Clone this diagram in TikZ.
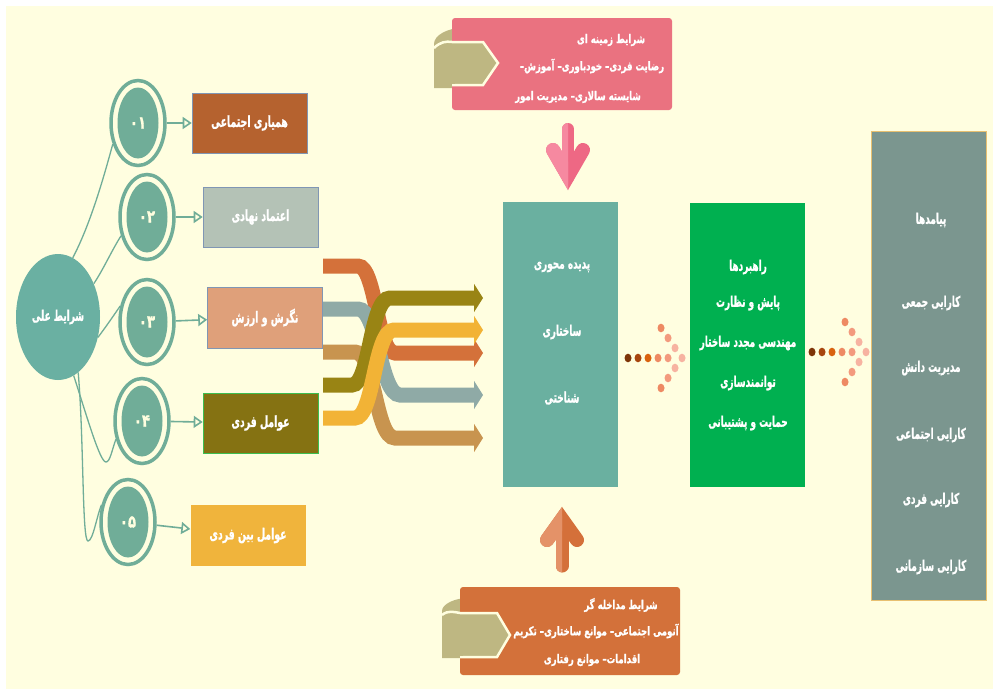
\documentclass[tikz,border=0pt]{standalone}
\usepackage{graphicx}
\usepackage{fontspec}
\usetikzlibrary{shapes.geometric,arrows.meta}
\TeXXeTstate=1
\newfontfamily\arabicfont[Script=Arabic, BoldFeatures={FakeBold=1.2}]{DejaVu Sans}
\newcommand{\fatx}[1]{\scalebox{0.85}[1.4]{\arabicfont\bfseries\beginR #1\endR}}
\newcommand{\fatp}[1]{\scalebox{0.95}[1.35]{\arabicfont\bfseries\beginR #1\endR}}
\newcommand{\fanum}[1]{\scalebox{0.95}[1.25]{\arabicfont\bfseries #1}}
\definecolor{bgc}{RGB}{255,254,224}
\definecolor{ringc}{RGB}{112,173,152}
\definecolor{bigc}{RGB}{106,176,162}
\definecolor{bxa}{RGB}{181,98,47}
\definecolor{bxb}{RGB}{180,194,182}
\definecolor{bxc}{RGB}{223,160,122}
\definecolor{bxd}{RGB}{133,114,18}
\definecolor{bxe}{RGB}{240,180,60}
\definecolor{bordblue}{RGB}{128,150,180}
\definecolor{bordgreen}{RGB}{60,190,80}
\definecolor{pinkbox}{RGB}{234,114,128}
\definecolor{orangebox}{RGB}{211,113,58}
\definecolor{khaki}{RGB}{190,183,130}
\definecolor{cboxc}{RGB}{106,176,160}
\definecolor{gboxc}{RGB}{0,176,80}
\definecolor{rboxc}{RGB}{123,150,143}
\definecolor{rboxb}{RGB}{232,192,112}
\definecolor{bandA}{RGB}{212,113,58}
\definecolor{bandB}{RGB}{143,170,166}
\definecolor{bandC}{RGB}{200,148,79}
\definecolor{bandD}{RGB}{153,132,20}
\definecolor{bandE}{RGB}{242,179,54}
\definecolor{pinkL}{RGB}{246,137,160}
\definecolor{pinkD}{RGB}{238,104,132}
\definecolor{orL}{RGB}{228,146,104}
\definecolor{orD}{RGB}{212,112,58}
\definecolor{dA}{RGB}{126,53,8}
\definecolor{dB}{RGB}{168,70,14}
\definecolor{dC}{RGB}{217,98,15}
\definecolor{dD}{RGB}{238,138,99}
\definecolor{dE}{RGB}{243,154,125}
\definecolor{dF}{RGB}{247,179,161}
\begin{document}
\begin{tikzpicture}[x=1pt,y=-1pt,
  bigell/.style={ellipse, fill=bigc, minimum width=84pt, minimum height=126pt, inner sep=0pt, text=white, font=\fontsize{10.5}{13}\selectfont},
  ring/.style={ellipse, draw=ringc, line width=3.5pt, fill=bgc, minimum width=54pt, minimum height=85pt, inner sep=0pt},
  ringin/.style={ellipse, fill=ringc, minimum width=41pt, minimum height=71pt, inner sep=0pt, text=bgc, font=\fontsize{14}{16}\selectfont},
  tbox/.style={rectangle, minimum width=115pt, minimum height=60pt, inner sep=0pt, text=white, font=\fontsize{11}{13}\selectfont},
  carrow/.style={draw=ringc, line width=1.6pt, -{Triangle[length=9pt, width=12pt, fill=bgc]}},
  cline/.style={draw=ringc, line width=1.3pt},
  band/.style={line width=15pt, -{Triangle[length=9pt, width=28pt]}},
  wt/.style={text=white, inner sep=0pt},
  pt/.style={wt, font=\fontsize{9}{11}\selectfont},
  mt/.style={wt, font=\fontsize{10.5}{12}\selectfont},
  tallbox/.style={rectangle, minimum width=115pt, inner sep=0pt}
]
\useasboundingbox (0,0) rectangle (993,689);
\fill[white] (0,0) rectangle (993,689);
\fill[bgc] (6,6) rectangle (993,689);

% big ellipse and rings
\node[bigell] (big) at (58,317) {\fatx{شرایط علی}};
\node[ring] (c1) at (138,123) {};
\node[ringin] (n1) at (c1) {\fanum{۰۱}};
\node[ring] (c2) at (147,217) {};
\node[ringin] (n2) at (c2) {\fanum{۰۲}};
\node[ring] (c3) at (147,322) {};
\node[ringin] (n3) at (c3) {\fanum{۰۳}};
\node[ring] (c4) at (142,421) {};
\node[ringin] (n4) at (c4) {\fanum{۰۴}};
\node[ring] (c5) at (128,522) {};
\node[ringin] (n5) at (c5) {\fanum{۰۵}};

\draw[cline] (big.76) .. controls (90,225) and (103,180) .. (c1.220);
\draw[cline] (big.43) .. controls (103,270) and (112,250) .. (c2.216);
\draw[cline] (big.-27) .. controls (105,328) and (112,318) .. (c3.149);
\draw[cline] (big.-75) .. controls (88,420) and (100,462) .. (106,462) .. controls (110,462) and (112,450) .. (c4.215);
\draw[cline] (big.-70) .. controls (84,440) and (82,541) .. (88,541) .. controls (93,541) and (97,515) .. (c5.147);

% boxes
\node[tbox, fill=bxa, draw=bordblue, line width=0.6pt] (b1) at (249.5,123) {\fatx{همیاری اجتماعی}};
\node[tbox, fill=bxb, draw=bordblue, line width=0.6pt] (b2) at (260.5,217) {\fatx{اعتماد نهادی}};
\node[tbox, fill=bxc, draw=bordblue, line width=0.6pt, minimum height=61pt] (b3) at (265,317.5) {\fatx{نگرش و ارزش}};
\node[tbox, fill=bxd, draw=bordgreen, line width=0.6pt] (b4) at (260.5,423) {\fatx{عوامل فردی}};
\node[tbox, fill=bxe, minimum height=61pt] (b5) at (248,535.5) {\fatx{عوامل بین فردی}};

\draw[carrow] (c1) -- (b1);
\draw[carrow] (c2) -- (b2);
\draw[carrow] (c3) -- (b3);
\draw[carrow] (c4) -- (b4);
\draw[carrow] (c5) -- (b5);

% crossing bands
\coordinate (sA) at (323,266); \coordinate (eA) at (483,353);
\coordinate (sB) at (323,309); \coordinate (eB) at (483,395);
\coordinate (sC) at (323,352); \coordinate (eC) at (483,438);
\coordinate (sD) at (323,385); \coordinate (eD) at (483,298);
\coordinate (sE) at (323,418); \coordinate (eE) at (483,330);
\draw[band, color=bandA] (sA) -- (358,266) .. controls (376,266) and (377,353) .. (395,353) -- (eA);
\draw[band, color=bandB] (sB) -- (358,309) .. controls (378,309) and (380,395) .. (400,395) -- (eB);
\draw[band, color=bandC] (sC) -- (355,352) .. controls (375,352) and (375,438) .. (395,438) -- (eC);
\draw[band, color=bandD] (sD) -- (352,385) .. controls (370,385) and (370,298) .. (390,298) -- (eD);
\draw[band, color=bandE] (sE) -- (355,418) .. controls (374,418) and (374,330) .. (394,330) -- (eE);

% top pink box with scroll
\fill[khaki, rounded corners=3pt] (434,88) -- (434,47) [sharp corners] .. controls (434,35) and (448,28) .. (462,28) -- (462,88) -- cycle;
\node[rectangle, fill=pinkbox, rounded corners=3pt, minimum width=220pt, minimum height=92pt, inner sep=0pt] (pb) at (562,64) {};
\draw[bgc, line width=2.5pt] (434,48) .. controls (440,42) and (446,41) .. (452,42);
\draw[bgc, line width=2.5pt, fill=khaki, line join=miter] (452,42) -- (483,42) -- (498,63) -- (483,85) -- (452,85);
\fill[khaki] (452,43.5) rectangle (455,83.5);
\node[pt] (pt1) at (611,40) {\fatp{شرایط زمینه ای}};
\node[pt] (pt2) at (592,66) {\fatp{رضایت فردی– خودباوری– آموزش–}};
\node[pt] (pt3) at (578,97) {\fatp{شایسته سالاری– مدیریت امور}};

% bottom orange box with scroll
\fill[khaki, rounded corners=3pt] (442,658) -- (442,614) [sharp corners] .. controls (442,604) and (455,598) .. (468,598) -- (468,658) -- cycle;
\node[rectangle, fill=orangebox, rounded corners=3pt, minimum width=220pt, minimum height=88pt, inner sep=0pt] (ob) at (570,631) {};
\draw[bgc, line width=2.5pt] (442,615) .. controls (448,610) and (454,612) .. (460,613);
\draw[bgc, line width=2.5pt, fill=khaki, line join=miter] (460,613) -- (497,613) -- (510,635) -- (497,657) -- (460,657);
\fill[khaki] (460,614.5) rectangle (463,655.5);
\node[pt] (ot1) at (621,605) {\fatp{شرایط مداخله گر}};
\node[pt] (ot2) at (596,631) {\fatp{آنومی اجتماعی– موانع ساختاری– تکریم}};
\node[pt] (ot3) at (592,660) {\fatp{اقدامات– موانع رفتاری}};

% pink down arrow
\begin{scope}[line cap=round, line join=miter]
\draw[pinkD, line width=12pt] (568,129) -- (568,178);
\draw[pinkD, line width=14pt] (553,150) -- (568,176) -- (583,150);
\begin{scope}
\clip (530,100) rectangle (568,200);
\draw[pinkL, line width=12pt] (568,129) -- (568,178);
\draw[pinkL, line width=14pt] (553,150) -- (568,176) -- (583,150);
\end{scope}
\end{scope}

% orange up arrow
\begin{scope}[line cap=round, line join=miter]
\draw[orD, line width=13pt] (562,566) -- (562,522);
\draw[orD, line width=14pt] (547,540) -- (562,519) -- (577,540);
\begin{scope}
\clip (520,490) rectangle (562,590);
\draw[orL, line width=13pt] (562,566) -- (562,522);
\draw[orL, line width=14pt] (547,540) -- (562,519) -- (577,540);
\end{scope}
\end{scope}

% central boxes
\node[tallbox, fill=cboxc, minimum height=285pt] (cb) at (560.5,344.5) {};
\node[mt] (ct1) at (562,267) {\fatx{پدیده محوری}};
\node[mt] (ct2) at (562,332) {\fatx{ساختاری}};
\node[mt] (ct3) at (562,398) {\fatx{شناختی}};

\node[tallbox, fill=gboxc, minimum height=284pt] (gb) at (747.5,345) {};
\node[mt] (gt1) at (748,267) {\fatx{راهبردها}};
\node[mt] (gt2) at (748,303) {\fatx{پایش و نظارت}};
\node[mt] (gt3) at (748,343) {\fatx{مهندسی مجدد ساختار}};
\node[mt] (gt4) at (748,383) {\fatx{توانمندسازی}};
\node[mt] (gt5) at (748,423) {\fatx{حمایت و پشتیبانی}};

\node[tallbox, fill=rboxc, draw=rboxb, line width=0.8pt, minimum height=469pt] (rb) at (928.5,365.5) {};
\node[mt] (rt1) at (931,220) {\fatx{پیامدها}};
\node[mt] (rt2) at (931,303) {\fatx{کارایی جمعی}};
\node[mt] (rt3) at (931,368) {\fatx{مدیریت دانش}};
\node[mt] (rt4) at (931,435) {\fatx{کارایی اجتماعی}};
\node[mt] (rt5) at (931,500) {\fatx{کارایی فردی}};
\node[mt] (rt6) at (931,567) {\fatx{کارایی سازمانی}};

% dotted arrows
\foreach \tx/\ty in {682/358, 866/352} {
  \fill[dA] (\tx-54,\ty) ellipse [x radius=3.5pt, y radius=4.3pt];
  \fill[dB] (\tx-44,\ty) ellipse [x radius=3.5pt, y radius=4.3pt];
  \fill[dC] (\tx-34,\ty) ellipse [x radius=3.5pt, y radius=4.3pt];
  \fill[dD] (\tx-24,\ty) ellipse [x radius=3.5pt, y radius=4.3pt];
  \fill[dE] (\tx-14,\ty) ellipse [x radius=3.5pt, y radius=4.3pt];
  \fill[dF] (\tx,\ty) ellipse [x radius=3.5pt, y radius=4.3pt];
  \fill[dD] (\tx-21,\ty-30) ellipse [x radius=3.5pt, y radius=4.3pt];
  \fill[dE] (\tx-14,\ty-20) ellipse [x radius=3.5pt, y radius=4.3pt];
  \fill[dF] (\tx-7,\ty-10) ellipse [x radius=3.5pt, y radius=4.3pt];
  \fill[dD] (\tx-21,\ty+30) ellipse [x radius=3.5pt, y radius=4.3pt];
  \fill[dE] (\tx-14,\ty+20) ellipse [x radius=3.5pt, y radius=4.3pt];
  \fill[dF] (\tx-7,\ty+10) ellipse [x radius=3.5pt, y radius=4.3pt];
}
\end{tikzpicture}
\end{document}
